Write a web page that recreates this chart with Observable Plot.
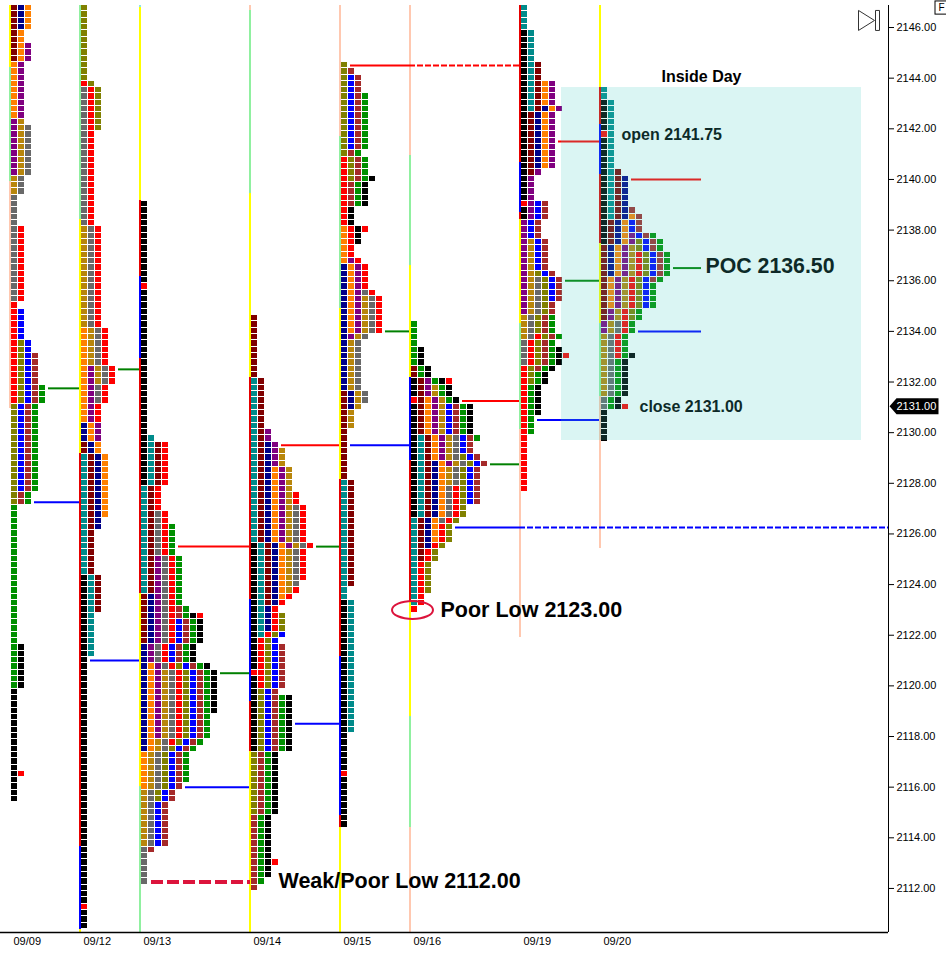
<!DOCTYPE html>
<html>
<head>
<meta charset="utf-8">
<script src="https://cdn.jsdelivr.net/npm/d3@7"></script>
<script src="https://cdn.jsdelivr.net/npm/@observablehq/plot@0.6"></script>
<style>html,body{margin:0;padding:0;background:#fff}svg{display:block}</style>
</head>
<body>
<div id="chart"></div>
<script>
// Sessions: date label and starting time slot
const sessionDates = ["09/09","09/12","09/13","09/14","09/15","09/16","09/19","09/20"];
const sessionSlots = [1,8,14,25,34,41,52,60];
// Highest price row of each profile is topPrice - startRow * tick
const topPrice = 2146.75, tick = 0.25;
const startRows = [0,0,31,49,9,50,0,13];
// TPO runs, top to bottom: <rows><letter of each column>
const profile0909 = "4dno 2do 3dop 9op 1pg 8pgy 3gy 5y 12yr 1r 5rb 2rlb 5rlbw 3rlbwG 14lbwG 2lwG 22G 7Gk 13k 1kr 4k";
const profile0912 = "12l 1rl 7yrl 15yr 16gyr 6ogyr 3opgyr 3opyr 3opr 3nop 2dno 10tdno 2tdn 7td 6ktd 7kt 39k 1r 3k";
const profile0913 = "13k 1r 23k 1kt 7ktdr 4tdr 2tdyr 5tdyrG 6tdpyrG 2dnpyrG 1dnpyrwG 1dnpyrwGkr 4dnpyrbwGk 3npyrbwGk 1nopyrlbwGk 7nopgyrlbwGk 4nopgyrlbwG 1nogyrlbwG 1nogylbwG 5ogylbwG 1ogylbw 2gylbw 7gybw 1yw 5y";
const profile0914 = "10d 8td 2tdp 1tdnp 3tdnpg 4tdnopg 2tdnopgr 6tdnopgyr 1ktdnopgyr 5ktdnogyr 1ktdnogy 1ktdnogr 1ktdnor 1ktdnr 1ktnr 3ktnrl 1ktrlb 1krlb 4krlbw 1rrlbw 2krlbw 1klbw 9klbwGk 10lwGk 7wGk 1wGkr 2wGk 1wG 1w";
const profile0915 = "1l 1lw 3lbw 9lbwG 1lwG 3rlwG 1rlwGk 4rwGk 3rk 1orkr 2ork 2or 1opr 4nopr 1nopyr 6nopgyr 1npgy 8ngy 2dngy 1dng 3dg 8d 17td 2t 21kt 6k 1r 8k";
const profile0916 = "4G 3Gk 2dGk 1kdpGkr 2kdpgGk 1rdopgGk 5kdopgbwGk 1ktdopgybwG 2ktdopgybw 1ktdopgylbw 1ktdnopgylbw 3ktdnogylbw 3ktdnoyrlbw 2ktdnoyrl 1tdnoyrl 3tdnorl 1tdnrl 2tdrl 5trl 2tr 1r";
const profile0919 = "4t 5kt 3ktd 4ktdop 1ktdnop 9kdnop 1kdp 4kp 1rpbw 2kpbw 3pbw 5pgbw 1pglbw 4pgylbw 2pgylw 3gylwG 1gyrlwG 1yrlwG 1yrlwGk 1yrlwGkr 1yrlwGk 1rlwGk 2rlGk 5rGk 3rG 9r";
const profile0920 = "2t 5kt 1rt 5kt 1ktd 5ktdn 1ktdnw 1ktdnow 2kdnobw 1kdnopbwG 1kdnoplbwG 1dnopglbwG 4dnopgrlbwG 1dopgrlbwG 4dopgrlbG 2dpgrlG 2pgyrG 3gyrG 1gyrGk 6gyGk 1yGk 1yGkr 5k";
const profiles = [profile0909,profile0912,profile0913,profile0914,profile0915,profile0916,profile0919,profile0920];
const tpoCodes = ["d","n","o","p","g","y","r","b","l","w","G","k","t"];
const tpoColors = ["#800000","#000088","#ff8000","#800080","#b8860b","#696969","#ff0000","#0000ff","#808000","#a52a2a","#009000","#000000","#008b8b"];

// Open/close stripes: price breaks (top to bottom) and segment colours
const Y="#ffff00", L="#90f0a0", P="#ffc8b0", R="#e60000", B="#0000ff", C="#90e8e0";
const stripeBreaks = [
  [2146.87,2144.42,2139.92,2130.95],
  [2146.87,2138.42,2129.18,2113.65,2110.38,2110.26],
  [2146.87,2146.79,2139.17,2136.17,2132.93,2123.65,2116.02,2110.26],
  [2146.87,2146.67,2139.44,2132.18,2123.41,2119.38,2117.41,2110.26],
  [2146.87,2141.70,2134.90,2128.15,2121.16,2114.88,2114.40,2110.26],
  [2146.87,2140.94,2136.60,2132.18,2128.90,2123.33,2118.79,2114.40,2110.26],
  [2146.87,2140.67,2138.69,2138.42,2134.31,2130.12,2121.91],
  [2146.87,2143.63,2142.17,2140.19,2137.47,2134.31,2131.43,2125.42]
];
const stripeColors = [
  [Y,L,P],
  [L,Y,R,B,Y],
  [C,Y,R,B,R,Y,L],
  [P,L,Y,R,B,R,Y],
  [P,L,Y,R,B,R,Y],
  [P,L,Y,B,R,Y,L,P],
  [R,B,R,Y,L,P],
  [Y,R,B,R,Y,L,P]
];

// Value-area levels: [from slot, to slot, price]
const pocLevels = [[4.7,7.8,2131.75],[11.7,13.8,2132.5],[21.9,24.8,2120.5],[31.5,33.8,2125.5],[38.4,40.8,2134],[48.9,51.8,2128.75],[56.4,59.8,2136],[67.2,70,2136.5]];
const valLevels = [[3.3,7.8,2127.25],[8.9,13.8,2121],[18.4,24.8,2116],[29.4,33.8,2118.5],[34.9,40.8,2129.5],[45.4,51.8,2126.25],[53.6,59.8,2130.5],[63.7,70,2134]];
const vahLevels = [[17.7,24.8,2125.5],[28,33.8,2129.5],[34.9,40.8,2144.5],[46.1,51.8,2131.25],[55.7,59.8,2141.5],[63,70,2140]];
const nakedHigh = [[40.8,51.8,2144.5]];
const nakedLow = [[51.8,88.7,2126.25]];
const weakLow = [[15,24.9,2112.25]];
const insideDayBox = {x1:56, x2:86, y1:2143.63, y2:2129.69};

// Annotations: [slot, price, text]
const smallNotes = [[62,2141.77,"open 2141.75"],[63.8,2131,"close 2131.00"]];
const bigNotes = [[70.4,2136.56,"POC 2136.50"]];
const bigNotesOutside = [[43.9,2123,"Poor Low 2123.00"],[27.7,2112.27,"Weak/Poor Low 2112.00"]];
const poorLowMark = [[41.1,2123]];
const lastPrice = 2131;
const priceTicks = d3.range(2112,2147,2);

// Build tables
const cells = profiles.flatMap((text,i)=>{
  let row = startRows[i]; const out = [];
  for (const run of text.split(" ")) {
    const m = run.match(/^(\d+)([a-zA-Z]+)$/);
    for (let n=0;n<+m[1];n++,row++) {
      [...m[2]].forEach((code,col)=>out.push({slot:sessionSlots[i]+col*0.7, price:topPrice-row*tick, code}));
    }
  }
  return out;
});
const stripes = stripeColors.flatMap((cols,i)=>cols.map((c,j)=>({slot:sessionSlots[i],top:stripeBreaks[i][j],bottom:stripeBreaks[i][j+1],c})));
const font = "'Liberation Sans',Arial,sans-serif";
const levelRule = (rows,stroke,extra={}) => Plot.ruleY(rows,{x1:d=>d[0],x2:d=>d[1],y:d=>d[2],stroke,strokeWidth:2,...extra});
const noteText = (rows,size,extra={}) => Plot.text(rows,{x:d=>d[0],y:d=>d[1],text:d=>d[2],textAnchor:"start",fontWeight:"bold",fontSize:size,fontFamily:font,fill:"#000",...extra});

const ellipseSymbol = {draw(c){const a=20.5,b=9,k=0.5523;c.moveTo(a,0);
  c.bezierCurveTo(a,k*b,k*a,b,0,b);c.bezierCurveTo(-k*a,b,-a,k*b,-a,0);
  c.bezierCurveTo(-a,-k*b,-k*a,-b,0,-b);c.bezierCurveTo(k*a,-b,a,-k*b,a,0);c.closePath();}};
const priceTag = {draw(c){c.moveTo(0,0);c.lineTo(7,-8);c.lineTo(49,-8);c.lineTo(49,8);c.lineTo(7,8);c.closePath();}};
const playEnd = {draw(c){c.moveTo(0,-10);c.lineTo(16,0);c.lineTo(0,10);c.closePath();
  c.moveTo(17,-10);c.lineTo(21,-10);c.lineTo(21,10);c.lineTo(17,10);c.closePath();}};

const chart = Plot.plot({
  width:946, height:955,
  marginLeft:0, marginRight:58, marginTop:5, marginBottom:23,
  x:{type:"linear",domain:[-0.1,88.7],range:[0,888],axis:null},
  y:{type:"linear",domain:[2146.87,2110.26],range:[5,932],axis:null},
  color:{type:"ordinal",domain:tpoCodes,range:tpoColors},
  style:{background:"#fff",fontFamily:font,overflow:"visible"},
  marks:[
    Plot.rect(stripes,{x1:d=>d.slot-0.2,x2:d=>d.slot,y1:"top",y2:"bottom",fill:"c",shapeRendering:"crispEdges"}),
    Plot.rect(cells,{x1:"slot",x2:d=>d.slot+0.6,y1:d=>d.price+tick/2,y2:d=>d.price-tick/2,fill:"code",insetBottom:1,shapeRendering:"crispEdges"}),
    levelRule(pocLevels,"#008000"),
    levelRule(valLevels,"#0000ff"),
    levelRule(vahLevels,"#ff0000"),
    levelRule(nakedHigh,"#ff0000",{strokeDasharray:"6,2"}),
    levelRule(nakedLow,"#0000ff",{strokeDasharray:"6,2"}),
    levelRule(weakLow,"#dc143c",{strokeWidth:4,strokeDasharray:"12,4"}),
    noteText(smallNotes,16),
    noteText(bigNotes,21.3),
    Plot.rect([insideDayBox],{x1:"x1",x2:"x2",y1:"y1",y2:"y2",fill:"rgb(70,205,195)",fillOpacity:0.2}),
    noteText([[70,2144.06,"Inside Day"]],16,{textAnchor:"middle"}),
    noteText(bigNotesOutside,21.5),
    Plot.dot(poorLowMark,{x:d=>d[0],y:d=>d[1],symbol:ellipseSymbol,stroke:"#dc143c",strokeWidth:2,fill:"none"}),
    Plot.axisY({anchor:"right",ticks:priceTicks,tickFormat:d3.format(".2f"),tickSize:5,tickPadding:3,label:null,fontSize:11,fontFamily:font,stroke:"#000",fill:"#000"}),
    Plot.ruleX([88.7],{y1:2146.87,y2:2110.26,stroke:"#000",strokeWidth:1}),
    Plot.ruleY([2110.26],{x1:-0.1,x2:88.7,stroke:"#000",strokeWidth:1.5}),
    Plot.text(sessionDates,{x:(d,i)=>sessionSlots[i]+0.2,y:()=>2109.9,text:d=>d,textAnchor:"start",fontSize:11,fontFamily:font,fill:"#000"}),
    Plot.dot([lastPrice],{x:()=>88.8,y:d=>d,dy:-1,symbol:priceTag,fill:"#000",stroke:"none"}),
    Plot.text([lastPrice],{x:()=>89.5,y:d=>d,dy:-1,text:d3.format(".2f"),textAnchor:"start",fontSize:11,fontFamily:font,fill:"#fff"}),
    Plot.dot([0],{x:()=>85.7,y:()=>2146.28,symbol:playEnd,fill:"none",stroke:"#333",strokeWidth:1}),
    Plot.rect([0],{x1:()=>93.4,x2:()=>94.6,y1:()=>2147.03,y2:()=>2146.51,fill:"none",stroke:"#000",strokeWidth:1}),
    Plot.text(["F"],{x:()=>94,y:()=>2146.77,text:d=>d,fontSize:10,fontFamily:font,fill:"#000"})
  ]
});
document.getElementById("chart").appendChild(chart);
</script>
</body>
</html>
